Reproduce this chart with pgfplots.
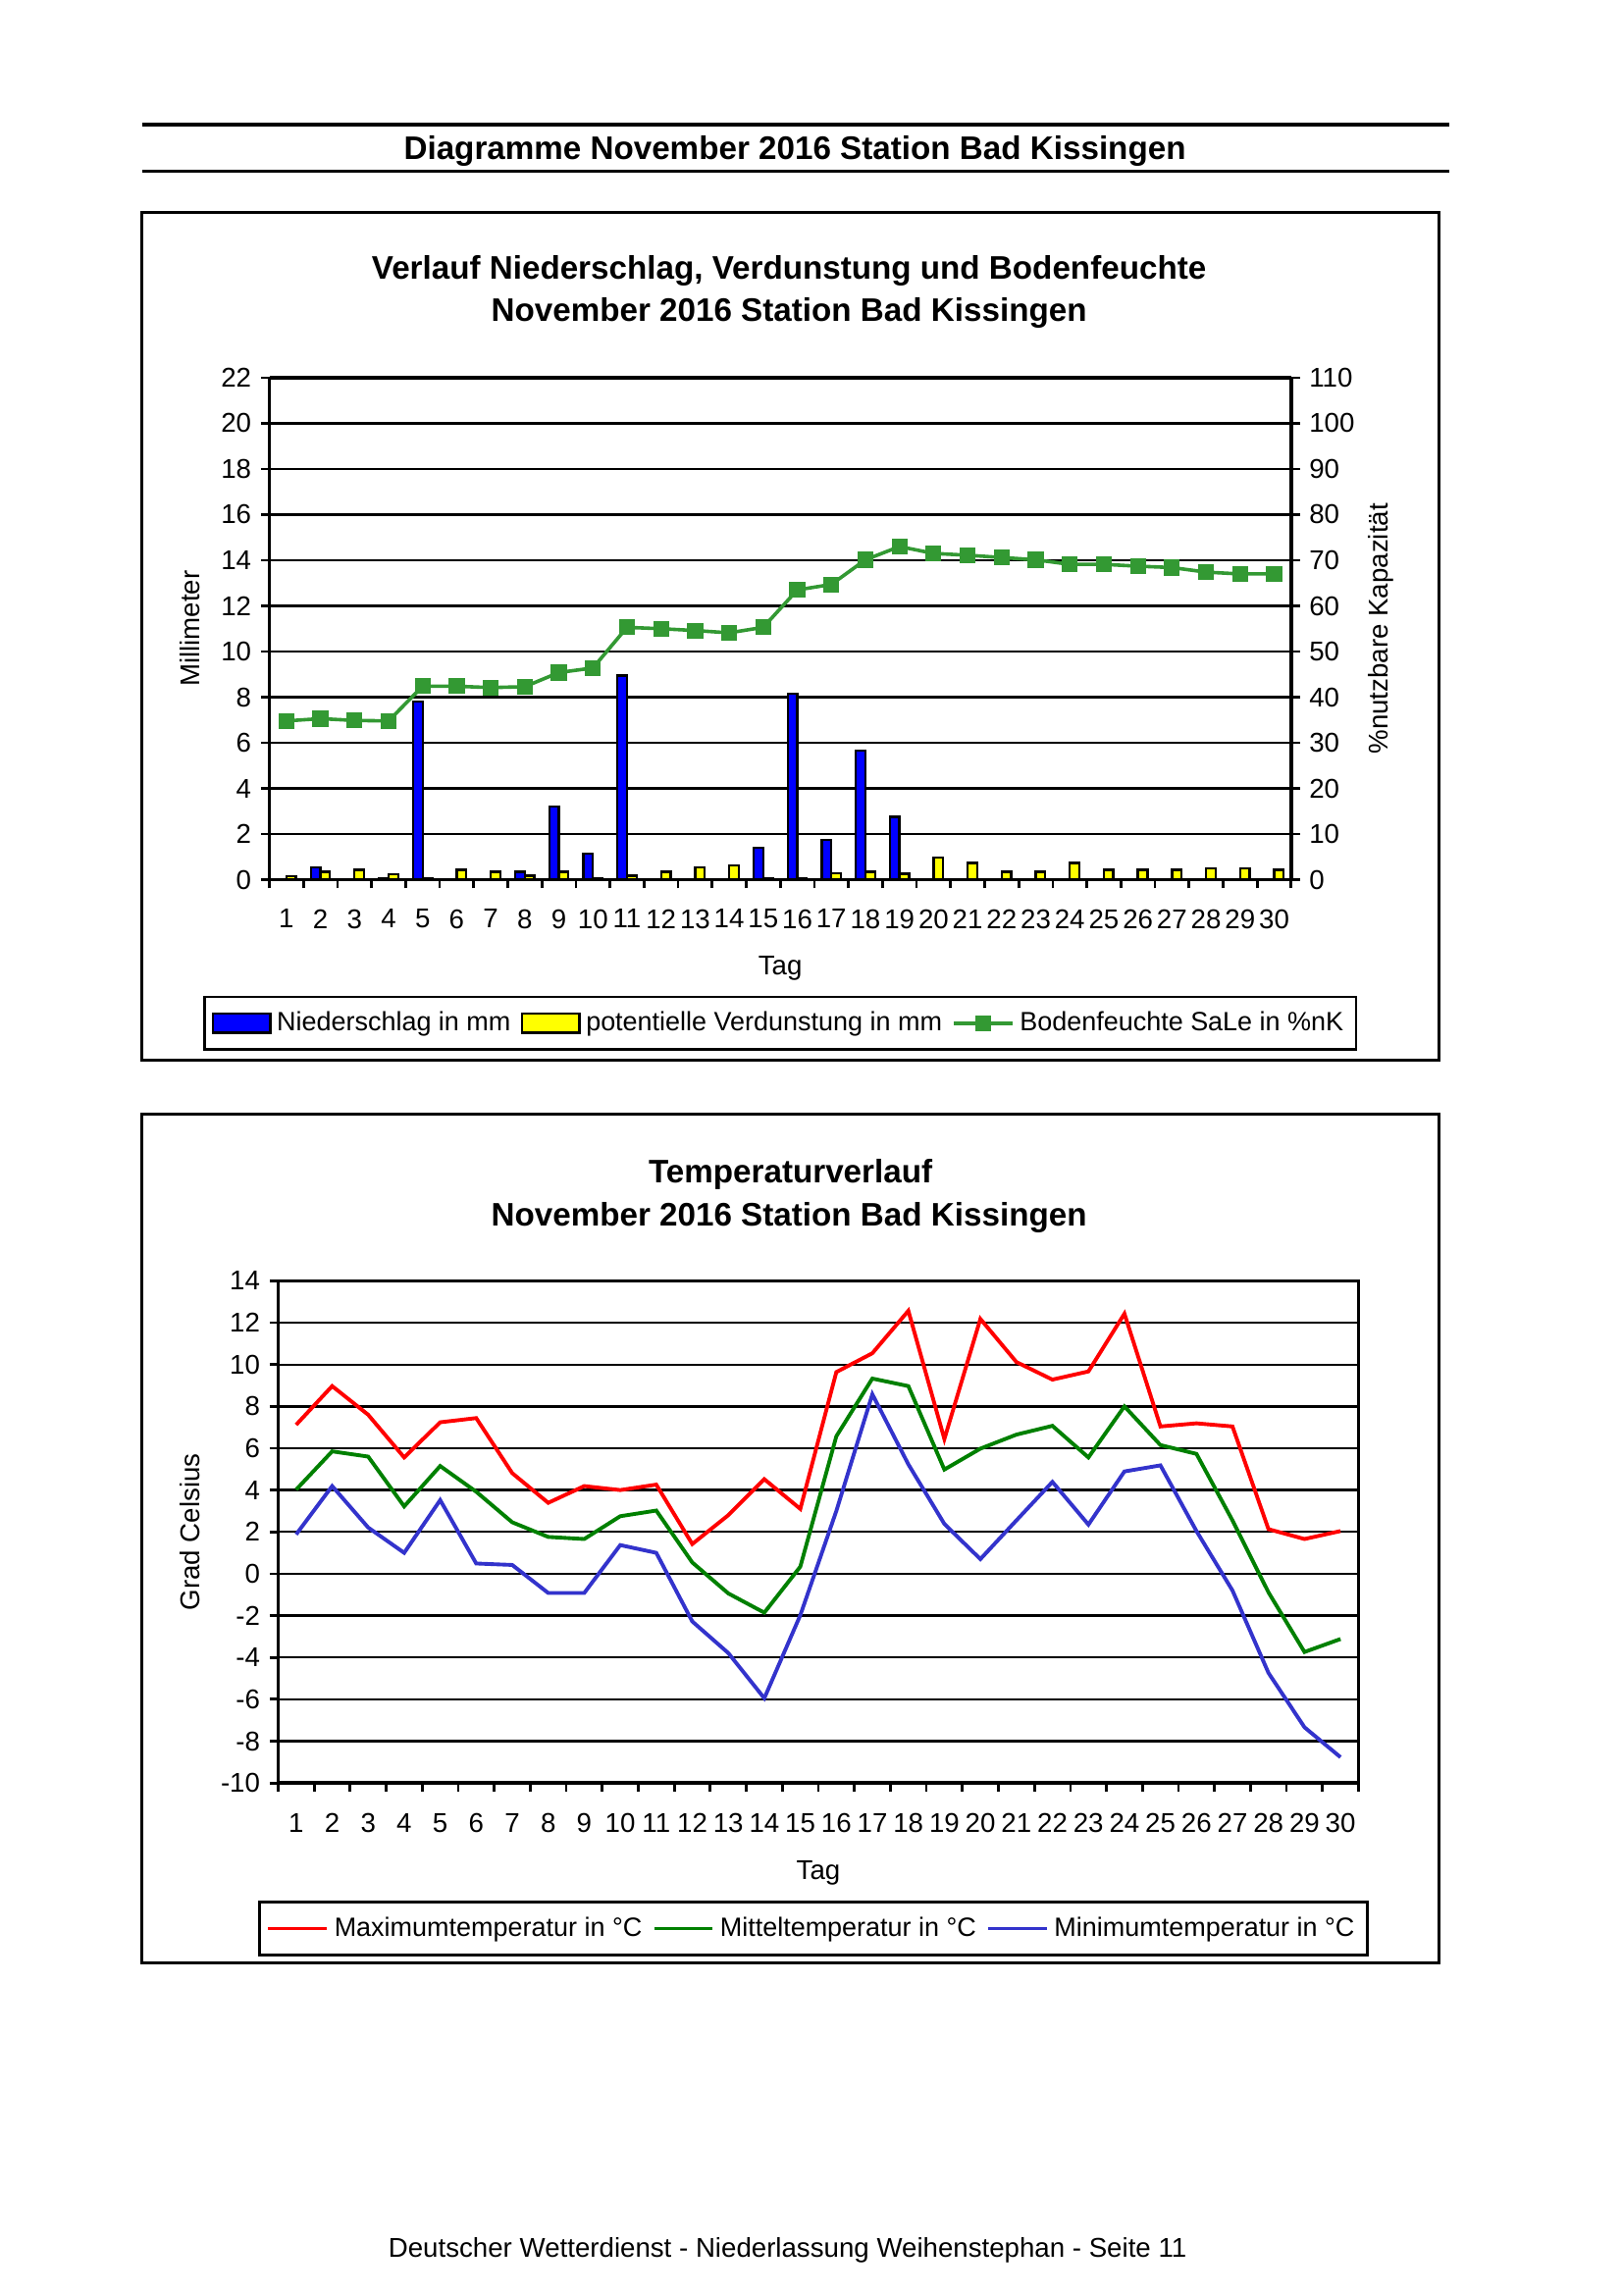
\documentclass[border=0pt]{standalone}
\usepackage{fontspec}
\setmainfont{Liberation Sans}
\usepackage{pgfplots}
\pgfplotsset{compat=1.18}
\definecolor{nblue}{RGB}{0,0,255}
\definecolor{vyellow}{RGB}{255,255,0}
\definecolor{bgreen}{RGB}{51,153,51}
\definecolor{tred}{RGB}{255,0,0}
\definecolor{tgreen}{RGB}{0,128,0}
\definecolor{tblue}{RGB}{51,51,204}
\def\U{0.189531mm}
\pgfplotsset{
  common/.style={
    scale only axis,
    anchor=south west,
    xmin=0.5, xmax=30.5,
    /pgf/number format/assume math mode=true,
    tick label style={font=\fontsize{10}{12}\selectfont},
    label style={font=\fontsize{10}{12}\selectfont},
    axis line style={line width=0.45mm},
    every tick/.style={black, line width=0.35mm},
    tick align=outside,
    major tick length=1.1mm,
    xtick pos=bottom,
    ymajorgrids,
    major grid style={black, line width=0.3mm},
  },
  barleg/.style={legend image code/.code={\draw[##1, line width=0.35mm] (0mm,-1.25mm) rectangle (7.4mm,1.25mm);}},
  lineleg/.style={legend image code/.code={\draw[mark repeat=2,mark phase=2,##1] plot coordinates {(0mm,0mm)(3.8mm,0mm)(7.6mm,0mm)};}},
  legstyle/.style={legend style={at={#1}, anchor=center, draw=black, line width=0.35mm,
    font=\fontsize{9.75}{12}\selectfont, inner xsep=0.9mm, inner ysep=1.2mm,
    /tikz/every even column/.append style={column sep=0.6mm}},
    legend columns=3, legend cell align=left},
}
\begin{document}
\begin{tikzpicture}[font=\fontsize{10}{12}\selectfont]
\path[fill=white] (0,0) rectangle ({1108*\U},{-1568.5*\U});
% page header
\draw[line width=0.45mm] ({97*\U},{-85*\U}) -- ({990*\U},{-85*\U});
\draw[line width=0.45mm] ({97*\U},{-117*\U}) -- ({990*\U},{-117*\U});
\node[font=\bfseries\fontsize{12}{14}\selectfont] at ({543*\U},{-103*\U}) {Diagramme November 2016 Station Bad Kissingen};
% boxes
\draw[line width=0.4mm] ({97*\U},{-145*\U}) rectangle ({983*\U},{-724*\U});
\draw[line width=0.4mm] ({97*\U},{-761*\U}) rectangle ({983*\U},{-1341*\U});
% chart titles
\node[font=\bfseries\fontsize{12}{14}\selectfont] at ({539*\U},{-185*\U}) {Verlauf Niederschlag, Verdunstung und Bodenfeuchte};
\node[font=\bfseries\fontsize{12}{14}\selectfont] at ({539*\U},{-214*\U}) {November 2016 Station Bad Kissingen};
\node[font=\bfseries\fontsize{12}{14}\selectfont] at ({540*\U},{-802*\U}) {Temperaturverlauf};
\node[font=\bfseries\fontsize{12}{14}\selectfont] at ({539*\U},{-832*\U}) {November 2016 Station Bad Kissingen};
% footer
\node at ({538*\U},{-1537.5*\U}) {Deutscher Wetterdienst - Niederlassung Weihenstephan - Seite 11};

% ---------- Chart 1: bars (left axis) ----------
\begin{axis}[common,
  at={({184*\U},{-601*\U})},
  width=132.293mm, height=65.009mm,
  ymin=0, ymax=22, ytick={0,2,...,22},
  xtick={0.5,1.5,...,29.5},
  extra x ticks={30.5}, extra x tick labels={},
  xticklabel={\pgfmathtruncatemacro\d{round(\tick+0.5)}\d},
  x tick label style={xshift=2.205mm, yshift=-1.5mm},
  ylabel={Millimeter},
  ylabel style={at={(axis description cs:-0.0774,0.5)}, anchor=center},
  xlabel={Tag},
  xlabel style={at={(axis description cs:0.5,-0.177)}, anchor=center},
  axis y line*=left,
]
\addplot[ybar, bar width=0.28, bar shift=-0.14, fill=nblue, draw=black, line width=0.3mm] coordinates {
(1,0) (2,0.55) (3,0) (4,0.05) (5,7.8) (6,0) (7,0) (8,0.35) (9,3.2) (10,1.15)
(11,8.95) (12,0) (13,0) (14,0) (15,1.4) (16,8.15) (17,1.75) (18,5.65) (19,2.75) (20,0)
(21,0) (22,0) (23,0) (24,0) (25,0) (26,0) (27,0) (28,0) (29,0) (30,0)};
\addplot[ybar, bar width=0.28, bar shift=0.14, fill=vyellow, draw=black, line width=0.3mm] coordinates {
(1,0.15) (2,0.35) (3,0.43) (4,0.25) (5,0.08) (6,0.43) (7,0.35) (8,0.17) (9,0.35) (10,0.08)
(11,0.17) (12,0.35) (13,0.55) (14,0.63) (15,0.08) (16,0.08) (17,0.28) (18,0.35) (19,0.26) (20,0.98)
(21,0.74) (22,0.35) (23,0.35) (24,0.74) (25,0.43) (26,0.43) (27,0.43) (28,0.5) (29,0.5) (30,0.43)};
\end{axis}

% ---------- Chart 1: soil moisture (right axis) ----------
\begin{axis}[common,
  at={({184*\U},{-601*\U})},
  width=132.293mm, height=65.009mm,
  ymin=0, ymax=110, ytick={0,10,...,110},
  ymajorgrids=false,
  axis x line=none,
  axis y line*=right,
  ylabel={\%nutzbare Kapazität},
  ylabel style={at={(axis description cs:1.0874,0.5)}, anchor=center, rotate=0},
  legstyle={(0.5,-0.2857)},
]
\addlegendimage{barleg, fill=nblue, draw=black}
\addlegendentry{Niederschlag in mm}
\addlegendimage{barleg, fill=vyellow, draw=black}
\addlegendentry{potentielle Verdunstung in mm}
\addplot[lineleg, color=bgreen, line width=1.3pt, mark=square*, mark size=0.8mm, mark options={solid}] coordinates {
(1,34.8) (2,35.3) (3,34.9) (4,34.8) (5,42.4) (6,42.4) (7,42.1) (8,42.3) (9,45.4) (10,46.4)
(11,55.3) (12,55.0) (13,54.6) (14,54.1) (15,55.3) (16,63.5) (17,64.7) (18,70.1) (19,73.0) (20,71.5)
(21,71.1) (22,70.6) (23,70.1) (24,69.1) (25,69.1) (26,68.7) (27,68.4) (28,67.4) (29,67.0) (30,67.0)};
\addlegendentry{Bodenfeuchte SaLe in \%nK}
\end{axis}

% ---------- Chart 2: temperatures ----------
\begin{axis}[common,
  at={({190*\U},{-1218*\U})},
  width=139.874mm, height=65.009mm,
  ymin=-10, ymax=14, ytick={-10,-8,...,14},
  ytick pos=left,
  xtick={0.5,1.5,...,29.5},
  extra x ticks={30.5}, extra x tick labels={},
  xticklabel={\pgfmathtruncatemacro\d{round(\tick+0.5)}\d},
  x tick label style={xshift=2.331mm, yshift=-1.6mm},
  ylabel={Grad Celsius},
  ylabel style={at={(axis description cs:-0.0813,0.5)}, anchor=center},
  xlabel={Tag},
  xlabel style={at={(axis description cs:0.5,-0.18)}, anchor=center},
  legstyle={(0.4953,-0.29)},
]
\addplot[lineleg, color=tred, line width=1.4pt] coordinates {
(1,7.12) (2,8.97) (3,7.6) (4,5.56) (5,7.24) (6,7.44) (7,4.81) (8,3.39) (9,4.19) (10,4.0)
(11,4.26) (12,1.42) (13,2.8) (14,4.52) (15,3.1) (16,9.64) (17,10.54) (18,12.57) (19,6.44) (20,12.18)
(21,10.12) (22,9.28) (23,9.67) (24,12.43) (25,7.04) (26,7.19) (27,7.04) (28,2.13) (29,1.66) (30,2.04)};
\addlegendentry{Maximumtemperatur in °C}
\addplot[lineleg, color=tgreen, line width=1.4pt] coordinates {
(1,4.02) (2,5.85) (3,5.6) (4,3.22) (5,5.15) (6,3.92) (7,2.46) (8,1.76) (9,1.66) (10,2.75)
(11,3.02) (12,0.54) (13,-0.94) (14,-1.86) (15,0.34) (16,6.57) (17,9.33) (18,8.97) (19,4.98) (20,5.98)
(21,6.65) (22,7.07) (23,5.56) (24,8.0) (25,6.15) (26,5.73) (27,2.55) (28,-0.89) (29,-3.74) (30,-3.12)};
\addlegendentry{Mitteltemperatur in °C}
\addplot[lineleg, color=tblue, line width=1.4pt] coordinates {
(1,1.88) (2,4.19) (3,2.21) (4,1.0) (5,3.52) (6,0.49) (7,0.42) (8,-0.92) (9,-0.92) (10,1.37)
(11,1.0) (12,-2.28) (13,-3.79) (14,-5.95) (15,-1.98) (16,3.0) (17,8.58) (18,5.23) (19,2.38) (20,0.7)
(21,2.55) (22,4.39) (23,2.35) (24,4.89) (25,5.18) (26,2.04) (27,-0.8) (28,-4.74) (29,-7.34) (30,-8.77)};
\addlegendentry{Minimumtemperatur in °C}
\end{axis}
\end{tikzpicture}
\end{document}
